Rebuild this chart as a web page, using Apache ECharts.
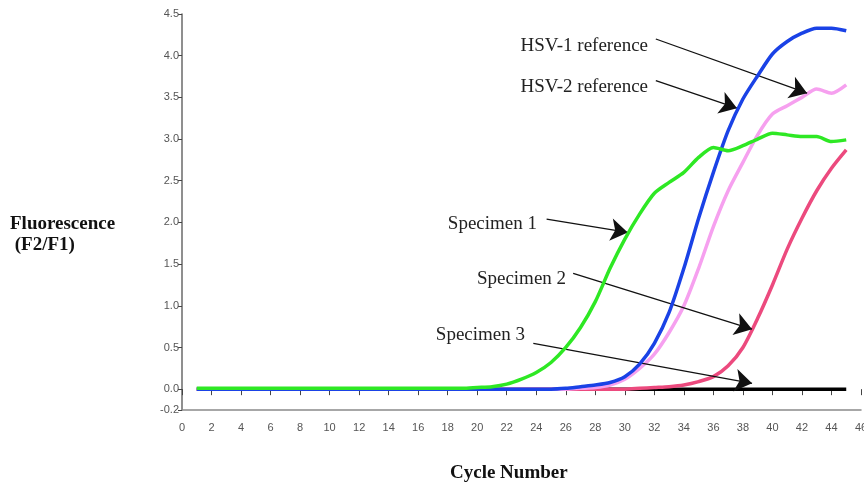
<!DOCTYPE html>
<html>
<head>
<meta charset="utf-8">
<script src="https://cdn.jsdelivr.net/npm/echarts@6/dist/echarts.min.js"></script>
<style>
html,body{margin:0;padding:0;background:#fff;}
#chart{width:864px;height:483px;}
</style>
</head>
<body>
<div id="chart"></div>
<script>
// ---- data ----
const cycles = [1,2,3,4,5,6,7,8,9,10,11,12,13,14,15,16,17,18,19,20,21,22,23,24,25,26,27,28,29,30,31,32,33,34,35,36,37,38,39,40,41,42,43,44,45];
const specimen3 = [0,0,0,0,0,0,0,0,0,0,0,0,0,0,0,0,0,0,0,0,0,0,0,0,0,0,0,0,0,0,0,0,0,0,0,0,0,0,0,0,0,0,0,0,0];
const specimen2 = [0,0,0,0,0,0,0,0,0,0,0,0,0,0,0,0,0,0,0,0,0,0,0,0,0,0,0,0,0,0,0.01,0.02,0.03,0.05,0.09,0.15,0.28,0.5,0.85,1.25,1.68,2.05,2.38,2.65,2.87];
const hsv2 = [0,0,0,0,0,0,0,0,0,0,0,0,0,0,0,0,0,0,0,0,0,0,0,0,0,0,0.01,0.02,0.05,0.12,0.25,0.42,0.68,1.0,1.45,1.95,2.38,2.72,3.05,3.3,3.4,3.5,3.6,3.55,3.65];
const hsv1 = [0,0,0,0,0,0,0,0,0,0,0,0,0,0,0,0,0,0,0,0,0,0,0,0,0,0.01,0.03,0.05,0.08,0.15,0.3,0.55,0.92,1.45,2.05,2.6,3.1,3.48,3.76,4.02,4.17,4.27,4.33,4.33,4.3];
const specimen1 = [0.01,0.01,0.01,0.01,0.01,0.01,0.01,0.01,0.01,0.01,0.01,0.01,0.01,0.01,0.01,0.01,0.01,0.01,0.01,0.02,0.03,0.06,0.12,0.2,0.32,0.5,0.74,1.05,1.45,1.8,2.1,2.35,2.48,2.6,2.78,2.9,2.86,2.92,3.0,3.07,3.05,3.03,3.03,2.97,2.99];

const yTickValues = [-0.25,0,0.5,1.0,1.5,2.0,2.5,3.0,3.5,4.0,4.5];
const yTickLabels = ['-0.2','0.0','0.5','1.0','1.5','2.0','2.5','3.0','3.5','4.0','4.5'];

// annotation labels: text, text anchor (right edge, middle) and arrow from/to in data units
const annLabels = ['HSV-1 reference','HSV-2 reference','Specimen 1','Specimen 2','Specimen 3'];
const annTextAt = [[31.57,4.12],[31.57,3.63],[24.05,1.98],[26.02,1.32],[23.24,0.65]];
const annFrom = [[32.1,4.20],[32.1,3.70],[24.7,2.04],[26.5,1.39],[23.8,0.55]];
const annTo = [[42.35,3.55],[37.6,3.37],[30.2,1.88],[38.62,0.72],[38.62,0.07]];

const pair = a => cycles.map((c,i)=>[c,a[i]]);

const chart = echarts.init(document.getElementById('chart'));
const lineW = 3.5;
const serif = '"Liberation Serif", "Times New Roman", serif';

function mkLine(name, data, color, z){
  return {name, type:'line', data:pair(data), showSymbol:false, smooth:0.25,
    lineStyle:{color, width:lineW}, itemStyle:{color}, z, animation:false};
}

const series = [
  mkLine('Specimen 3', specimen3, '#000000', 2),
  mkLine('Specimen 2', specimen2, '#ec4a7e', 3),
  mkLine('HSV-2 reference', hsv2, '#f6a0ef', 4),
  mkLine('HSV-1 reference', hsv1, '#1a42e6', 5),
  mkLine('Specimen 1', specimen1, '#2ee824', 6),
  {
    name:'annotations', type:'scatter', data:[], z:10, animation:false,
    markLine:{
      silent:true, animation:false,
      symbol:['none','arrow'], symbolSize:17,
      itemStyle:{color:'#111'},
      lineStyle:{color:'#111', width:1.3, type:'solid', opacity:1},
      emphasis:{disabled:true},
      label:{show:false},
      data: annFrom.map((f,i)=>[
        {coord:f, symbol:'none'},
        {coord:annTo[i], symbol:'arrow', symbolSize:17, itemStyle:{color:'#111'}}
      ])
    },
    markPoint:{
      silent:true, animation:false, symbol:'circle', symbolSize:0,
      label:{show:true, position:'left', distance:0, color:'#222',
        fontFamily:serif, fontSize:19,
        formatter:p=>p.name},
      data: annTextAt.map((c,i)=>({name:annLabels[i], coord:c}))
    }
  }
];

const labelFont = {fontFamily:'Arial, "Liberation Sans", sans-serif', fontSize:11, color:'#555'};

chart.setOption({
  backgroundColor:'#ffffff',
  animation:false,
  grid:{left:182, right:3, top:14, bottom:73, containLabel:false, outerBoundsMode:'none'},
  xAxis:[
    {type:'value', min:0, max:46, interval:2, position:'bottom',
     axisLine:{show:true, onZero:false, lineStyle:{color:'#8a8a8a', width:1.5}},
     axisTick:{show:false}, axisLabel:{show:false}, splitLine:{show:false}},
    {type:'value', min:0, max:46, interval:2, position:'bottom', offset:5,
     axisLine:{show:false}, axisTick:{show:true, length:6, lineStyle:{color:'#444', width:1}},
     axisLabel:Object.assign({}, labelFont, {margin:7, hideOverlap:false}), splitLine:{show:false}}
  ],
  yAxis:{
    type:'value', min:-0.25, max:4.5,
    axisLine:{show:true, onZero:false, lineStyle:{color:'#6a6a6a', width:1.5}},
    axisTick:{show:true, length:4, customValues:yTickValues, lineStyle:{color:'#444'}},
    axisLabel:Object.assign({margin:3, customValues:yTickValues,
      formatter:v=>{const i=yTickValues.findIndex(t=>Math.abs(t-v)<1e-6);return i>=0?yTickLabels[i]:'';}}, labelFont),
    splitLine:{show:false}
  },
  graphic:[
    {type:'text', left:10, top:214, style:{text:'Fluorescence\n (F2/F1)', fill:'#111',
      font:'bold 19px ' + serif, lineHeight:21}},
    {type:'text', left:450, top:464, style:{text:'Cycle Number', fill:'#111',
      font:'bold 19px ' + serif}}
  ],
  series
});
</script>
</body>
</html>
